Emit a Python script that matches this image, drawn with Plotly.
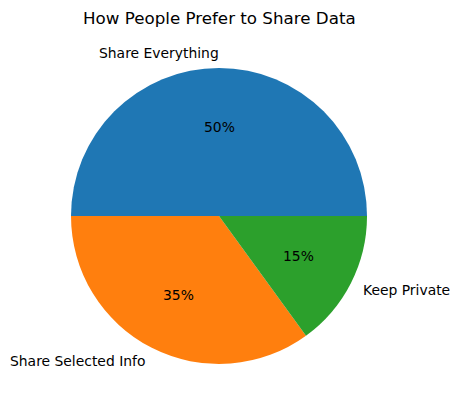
import math
import plotly.graph_objects as go

title = "How People Prefer to Share Data"
labels = ["Share Everything", "Share Selected Info", "Keep Private"]
values = [50, 35, 15]
colors = ["#1f77b4", "#ff7f0e", "#2ca02c"]

W, H = 461, 411
cx, cy, R = 219, 216, 148  # pie centre and radius in pixels

fig = go.Figure(go.Pie(
    labels=labels, values=values, sort=False,
    direction="counterclockwise", rotation=-90,
    marker=dict(colors=colors, line=dict(width=0)),
    textinfo="none", hoverinfo="label+percent", showlegend=False,
    domain=dict(x=[(cx - R) / W, (cx + R) / W],
                y=[1 - (cy + R) / H, 1 - (cy - R) / H]),
))

total = sum(values)
ann = []
start = 0.0
for lab, v in zip(labels, values):
    mid = math.radians((start + v / 2) / total * 360)
    start += v
    c, s = math.cos(mid), math.sin(mid)
    # outer label at 1.1 R
    lx = cx + 1.1 * R * c
    ly = cy - 1.1 * R * s
    left = c > 1e-9
    ann.append(dict(x=lx / W, y=1 - ly / H, xref="paper", yref="paper",
                    text=lab, showarrow=False,
                    xanchor="left" if left else "right", yanchor="middle",
                    xshift=-3 if left else 2,
                    font=dict(size=13.9, color="black")))
    # percent at 0.6 R
    px_ = cx + 0.6 * R * c
    py_ = cy - 0.6 * R * s
    ann.append(dict(x=px_ / W, y=1 - py_ / H, xref="paper", yref="paper",
                    text=f"{v / total * 100:.0f}%", showarrow=False,
                    xanchor="center", yanchor="middle",
                    font=dict(size=13.9, color="black")))

ann.append(dict(x=cx / W, y=1 - 18 / H, xref="paper", yref="paper",
                text=title, showarrow=False, xanchor="center", yanchor="middle",
                font=dict(size=16.7, color="black")))

fig.update_layout(
    width=W, height=H, margin=dict(l=0, r=0, t=0, b=0),
    paper_bgcolor="white", plot_bgcolor="white",
    font=dict(family="DejaVu Sans"),
    annotations=ann,
)
fig.write_html("out.html", config={"displayModeBar": False},
               post_script="document.body.style.margin='0';")
